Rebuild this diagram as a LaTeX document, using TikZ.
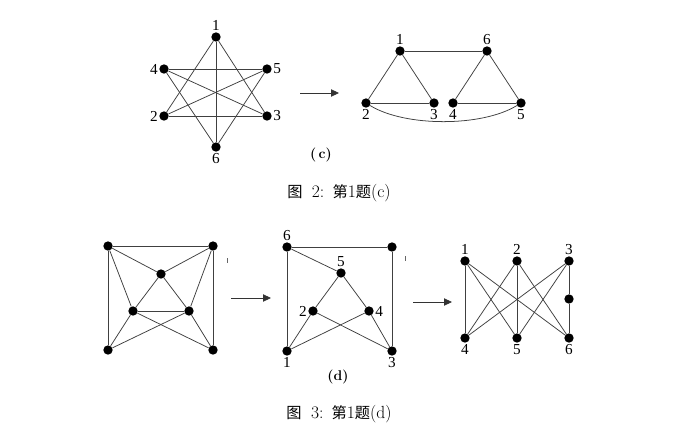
\documentclass[tikz,border=0pt]{standalone}
\usepackage{fontspec}
\newfontfamily\numfont{Liberation Serif}
\newfontfamily\cjk{Noto Sans CJK SC}
\usetikzlibrary{arrows.meta}

\begin{document}
\begin{tikzpicture}[
    x=0.03cm, y=-0.03cm,
    vertex/.style={
        circle,
        fill=black,
        inner sep=0pt,
        minimum size=0.28cm
    },
    lab/.style={
        font=\numfont\fontsize{13}{13}\selectfont,
        inner sep=1pt
    },
    edge/.style={draw=black!75, line width=0.65pt},
    arrow/.style={-{Triangle[length=2.4mm,width=2.2mm]}, line width=0.7pt, black!80},
    caption/.style={font=\fontsize{15}{15}\selectfont, inner sep=1pt}
]
\useasboundingbox (0,0) rectangle (700,445);

% (c) left graph
\node[vertex, label={[lab]above:1}] (c1) at (216,37) {};
\node[vertex, label={[lab]left:4}] (c4) at (164,69) {};
\node[vertex, label={[lab]right:5}] (c5) at (267,69) {};
\node[vertex, label={[lab]left:2}] (c2) at (164,116) {};
\node[vertex, label={[lab]right:3}] (c3) at (267,116) {};
\node[vertex, label={[lab]below:6}] (c6) at (216,147) {};

\draw[edge] (c1) -- (c2);
\draw[edge] (c1) -- (c3);
\draw[edge] (c1) -- (c6);
\draw[edge] (c4) -- (c5);
\draw[edge] (c4) -- (c3);
\draw[edge] (c4) -- (c6);
\draw[edge] (c2) -- (c5);
\draw[edge] (c2) -- (c3);
\draw[edge] (c5) -- (c6);

\coordinate (ca) at (300,93);
\coordinate (cb) at (339,93);
\draw[arrow] (ca) -- (cb);

% (c) right graph
\node[vertex, label={[lab]above:1}] (r1) at (400,51) {};
\node[vertex, label={[lab]above:6}] (r6) at (487,51) {};
\node[vertex, label={[lab]below:2}] (r2) at (366,103) {};
\node[vertex, label={[lab]below:3}] (r3) at (434,103) {};
\node[vertex, label={[lab]below:4}] (r4) at (453,103) {};
\node[vertex, label={[lab]below:5}] (r5) at (521,103) {};

\draw[edge] (r1) -- (r6);
\draw[edge] (r1) -- (r2);
\draw[edge] (r1) -- (r3);
\draw[edge] (r6) -- (r4);
\draw[edge] (r6) -- (r5);
\draw[edge] (r2) -- (r3);
\draw[edge] (r4) -- (r5);
\draw[edge] (r2) .. controls (405,127) and (482,127) .. (r5);

\node[caption, font=\fontsize{12}{12}\selectfont\bfseries] (capc) at (321,155) {(\,c)};
\node[caption] (fig2) at (339,193) {{\cjk\fontsize{13}{13}\selectfont 图}\hspace{8pt}2:\hspace{7pt}{\cjk\fontsize{13}{13}\selectfont 第}1{\cjk\fontsize{13}{13}\selectfont 题}(c)};

% (d) left graph
\node[vertex] (tl) at (108,246) {};
\node[vertex] (tr) at (213,246) {};
\node[vertex] (ct) at (161,274) {};
\node[vertex] (ml) at (133,311) {};
\node[vertex] (mr) at (189,311) {};
\node[vertex] (bl) at (108,350) {};
\node[vertex] (br) at (213,350) {};

\draw[edge] (tl) -- (tr);
\draw[edge] (tl) -- (bl);
\draw[edge] (tr) -- (br);
\draw[edge] (tl) -- (ct);
\draw[edge] (tr) -- (ct);
\draw[edge] (tl) -- (ml);
\draw[edge] (tr) -- (mr);
\draw[edge] (ct) -- (ml);
\draw[edge] (ct) -- (mr);
\draw[edge] (ml) -- (mr);
\draw[edge] (ml) -- (br);
\draw[edge] (mr) -- (bl);
\draw[edge] (bl) -- (ml);
\draw[edge] (br) -- (mr);
\draw[black!60, line width=0.4pt] (227,258) -- (227,263);

\coordinate (da) at (231,298);
\coordinate (db) at (271,298);
\draw[arrow] (da) -- (db);

% (d) middle graph
\node[vertex, label={[lab]above:6}] (m6) at (287,247) {};
\node[vertex] (mt) at (392,247) {};
\node[vertex, label={[lab]above:5}] (m5) at (341,273) {};
\node[vertex, label={[lab]left:2}] (m2) at (313,311) {};
\node[vertex, label={[lab]right:4}] (m4) at (369,311) {};
\node[vertex, label={[lab]below:1}] (m1) at (287,351) {};
\node[vertex, label={[lab]below:3}] (m3) at (392,351) {};

\draw[edge] (m6) -- (mt);
\draw[edge] (m6) -- (m1);
\draw[edge] (m6) -- (m5);
\draw[edge] (mt) -- (m3);
\draw[edge] (m5) -- (m2);
\draw[edge] (m5) -- (m4);
\draw[edge] (m2) -- (m1);
\draw[edge] (m2) -- (m3);
\draw[edge] (m4) -- (m1);
\draw[edge] (m4) -- (m3);
\draw[black!60, line width=0.4pt] (405,256) -- (405,261);

\node[caption, font=\fontsize{12}{12}\selectfont\bfseries] (capd) at (338,377) {(d)};

\coordinate (ea) at (413,302);
\coordinate (eb) at (452,302);
\draw[arrow] (ea) -- (eb);

% (d) right graph
\node[vertex, label={[lab]above:1}] (k1) at (465,261) {};
\node[vertex, label={[lab]above:2}] (k2) at (517,261) {};
\node[vertex, label={[lab]above:3}] (k3) at (569,261) {};
\node[vertex] (kx) at (569,299) {};
\node[vertex, label={[lab]below:4}] (k4) at (465,338) {};
\node[vertex, label={[lab]below:5}] (k5) at (517,338) {};
\node[vertex, label={[lab]below:6}] (k6) at (569,338) {};

\draw[edge] (k1) -- (k4);
\draw[edge] (k1) -- (k5);
\draw[edge] (k1) -- (k6);
\draw[edge] (k2) -- (k4);
\draw[edge] (k2) -- (k5);
\draw[edge] (k2) -- (k6);
\draw[edge] (k3) -- (k4);
\draw[edge] (k3) -- (k5);
\draw[edge] (k3) -- (kx);
\draw[edge] (kx) -- (k6);

\node[caption] (fig3) at (339,414) {{\cjk\fontsize{13}{13}\selectfont 图}\hspace{8pt}3:\hspace{7pt}{\cjk\fontsize{13}{13}\selectfont 第}1{\cjk\fontsize{13}{13}\selectfont 题}(d)};

\end{tikzpicture}
\end{document}
